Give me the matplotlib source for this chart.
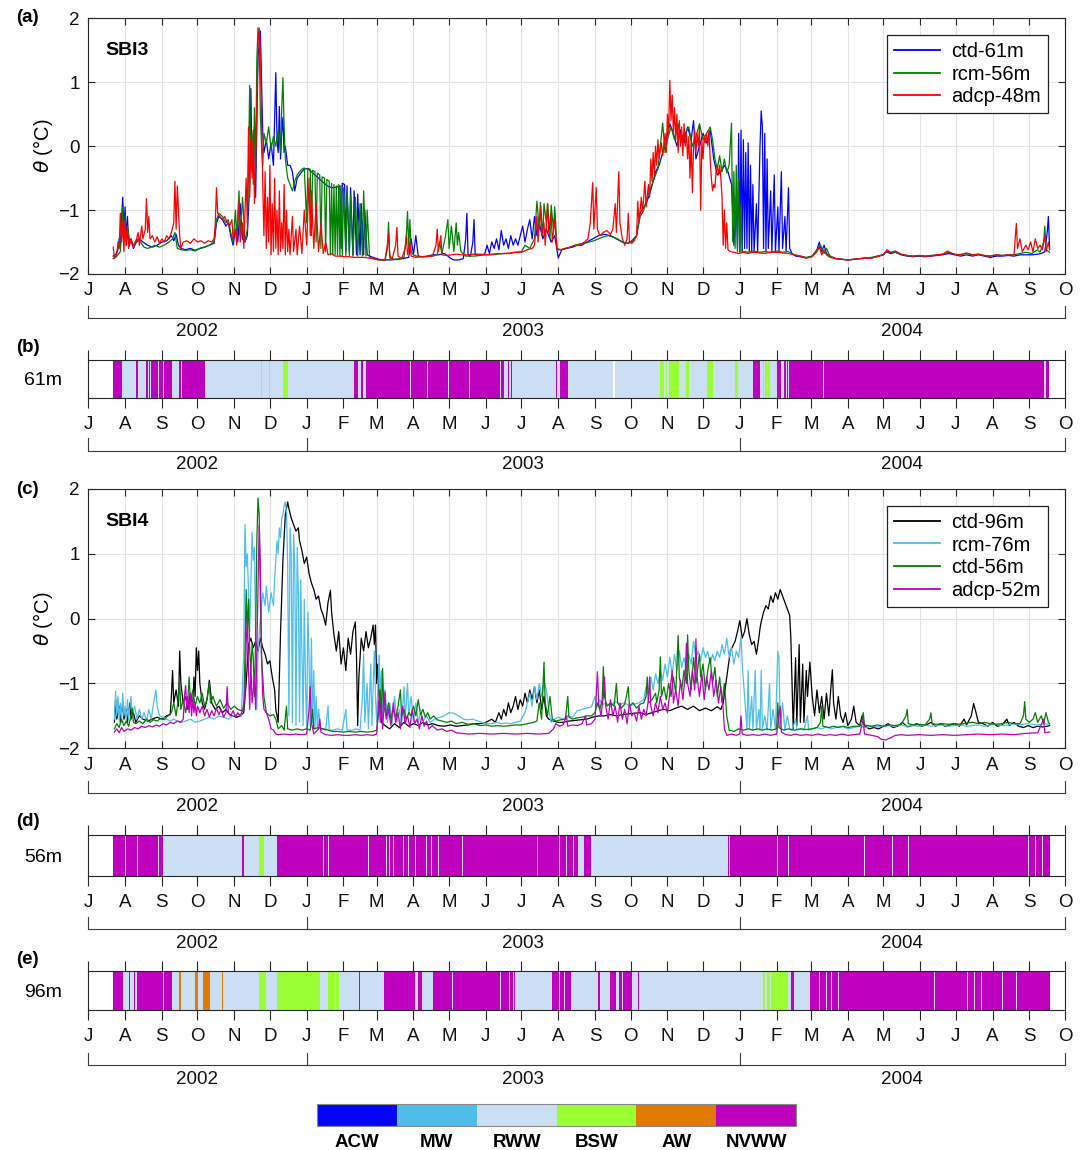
import numpy as np
import matplotlib
matplotlib.use('Agg')
import matplotlib.pyplot as plt
import matplotlib.dates as mdates
import matplotlib.transforms as mtransforms
from matplotlib.ticker import FuncFormatter
from matplotlib.colors import ListedColormap, BoundaryNorm
from matplotlib.cm import ScalarMappable

plt.rcParams['font.family'] = ['Liberation Sans', 'DejaVu Sans']
plt.rcParams['mathtext.fontset'] = 'dejavusans'

# ---- time series: (day since 2002-07-01, potential temperature degC) ----
# SBI3 mooring
ctd61 = [(21,-1.72),(23,-1.70),(25,-1.62),(26,-1.45),(27,-1.60),(28,-1.15),(29,-0.80),(30,-1.30),(31,-0.95),
         (32,-1.45),(33,-1.10),(34,-1.55),(36,-1.45),(38,-1.60),(40,-1.52),(43,-1.45),(46,-1.50),(50,-1.55),
         (54,-1.58),(58,-1.55),(62,-1.50),(66,-1.48),(70,-1.40),(72,-1.48),(74,-1.38),(76,-1.55),(78,-1.60),
         (82,-1.62),(86,-1.60),(90,-1.63),(94,-1.60),(98,-1.58),(102,-1.55),(106,-1.52),(108,-1.20),(110,-1.10),
         (113,-1.15),(116,-1.25),(118,-1.20),(120,-1.40),(122,-1.55),(124,-1.30),(126,-1.50),(128,-0.90),
         (130,-1.45),(132,-1.50),(134,-1.40),(136,-0.60),(137,0.90),(138,-0.40),(140,0.30),(141,-0.80),
         (143,1.40),(145,1.80),(146,1.00),(147,0.20),(148,-0.10),(150,0.10),(152,-0.20),(154,0.05),(156,-0.30),
         (157,0.40),(158,1.15),(159,0.10),(160,-0.10),(161,0.62),(162,-0.20),(163,0.20),(164,0.45),(165,-0.10),
         (166,0.00),(168,-0.30),(170,-0.30),(172,-0.40),(174,-0.70),(176,-0.50),(178,-0.45),(180,-0.40),
         (182,-0.36),(185,-0.35),(188,-0.40),(191,-0.45),(194,-0.50),(197,-0.55),(200,-0.60),(203,-0.64),
         (206,-0.65),(209,-0.64),(212,-0.62),(213,-1.60),(214,-0.58),(216,-0.60),(217,-1.65),(218,-0.62),
         (220,-1.65),(221,-0.65),(223,-1.70),(224,-0.70),(226,-1.70),(227,-0.75),(229,-1.70),(230,-0.90),
         (232,-1.70),(233,-1.00),(235,-1.70),(237,-1.72),(240,-1.74),(245,-1.77),(250,-1.78),(255,-1.78),
         (260,-1.77),(265,-1.76),(270,-1.74),(272,-1.45),(274,-1.70),(276,-1.40),(278,-1.72),(282,-1.73),
         (286,-1.72),(290,-1.70),(295,-1.70),(300,-1.68),(303,-1.72),(305,-1.75),(308,-1.78),(312,-1.78),
         (316,-1.76),(318,-1.45),(319,-1.05),(320,-1.70),(322,-1.72),(324,-1.50),(325,-1.15),(326,-1.70),
         (330,-1.70),(334,-1.69),(336,-1.55),(338,-1.68),(340,-1.50),(342,-1.60),(344,-1.45),(346,-1.62),
         (348,-1.32),(350,-1.55),(352,-1.45),(354,-1.60),(356,-1.40),(358,-1.55),(360,-1.45),(362,-1.55),
         (364,-1.40),(366,-1.25),(368,-1.50),(370,-1.30),(372,-1.15),(374,-1.45),(376,-1.10),(378,-1.40),
         (380,-1.20),(383,-1.45),(386,-1.30),(390,-1.50),(393,-1.40),(396,-1.75),(399,-1.62),(403,-1.60),
         (408,-1.58),(412,-1.55),(416,-1.55),(420,-1.50),(425,-1.45),(430,-1.40),(435,-1.38),(440,-1.40),
         (445,-1.45),(450,-1.50),(455,-1.52),(458,-1.48),(462,-1.40),(465,-1.05),(468,-0.95),(470,-0.90),
         (473,-0.75),(476,-0.55),(478,-0.40),(481,-0.30),(484,-0.10),(487,0.10),(490,0.35),(493,0.20),
         (496,0.00),(499,0.25),(502,0.05),(505,0.30),(508,0.10),(510,0.40),(512,-0.20),(515,0.00),(518,0.20),
         (521,0.05),(524,0.25),(527,-0.20),(530,-0.45),(533,-0.40),(536,-0.30),(539,-0.40),(542,-0.60),
         (544,-1.55),(546,-0.80),(547,-1.60),(548,0.20),(549,-1.65),(550,0.25),(551,-1.65),(552,0.10),
         (553,-1.60),(554,-0.10),(555,-1.60),(556,0.05),(557,-1.65),(558,-0.30),(559,-1.65),(560,-0.60),
         (561,-1.66),(563,-0.90),(564,-1.66),(566,0.00),(567,0.55),(568,0.30),(569,-1.60),(570,0.20),
         (571,-1.65),(572,-0.20),(573,-1.60),(575,-0.70),(576,-1.65),(578,-0.45),(579,-1.65),(581,-0.95),
         (582,-1.65),(584,-0.40),(585,-1.60),(587,-1.10),(588,-1.65),(590,-0.65),(591,-1.60),(593,-1.68),
         (596,-1.72),(600,-1.73),(605,-1.75),(610,-1.72),(614,-1.62),(616,-1.50),(618,-1.65),(620,-1.55),
         (622,-1.68),(625,-1.72),(630,-1.76),(635,-1.77),(640,-1.78),(645,-1.77),(650,-1.76),(655,-1.75),
         (660,-1.75),(665,-1.72),(670,-1.70),(672,-1.65),(676,-1.68),(680,-1.66),(685,-1.70),(690,-1.72),
         (695,-1.73),(700,-1.72),(705,-1.73),(710,-1.72),(715,-1.71),(720,-1.70),(725,-1.68),(730,-1.70),
         (735,-1.72),(740,-1.70),(745,-1.72),(750,-1.70),(755,-1.72),(760,-1.74),(765,-1.72),(770,-1.72),
         (775,-1.71),(780,-1.72),(785,-1.70),(790,-1.70),(795,-1.70),(800,-1.69),(803,-1.68),(806,-1.65),
         (808,-1.35),(809,-1.10),(810,-1.60)]

rcm56 = [(21,-1.76),(23,-1.74),(25,-1.70),(27,-1.65),(28,-1.30),(29,-0.95),(30,-1.45),(31,-1.10),(32,-1.55),
         (33,-1.25),(35,-1.50),(38,-1.55),(41,-1.45),(44,-1.50),(47,-1.58),(50,-1.60),(53,-1.58),(56,-1.55),
         (60,-1.58),(64,-1.55),(68,-1.50),(71,-1.45),(73,-1.35),(75,-1.60),(78,-1.62),(82,-1.63),(86,-1.62),
         (90,-1.64),(94,-1.60),(98,-1.58),(102,-1.55),(106,-1.50),(108,-1.15),(110,-1.05),(113,-1.10),
         (116,-1.20),(118,-1.15),(120,-1.35),(122,-1.50),(124,-1.00),(125,-1.45),(127,-0.70),(128,-1.40),
         (130,-0.80),(132,-1.50),(134,-1.30),(135,-0.30),(136,0.95),(137,-0.20),(138,0.20),(139,-0.60),
         (140,0.60),(141,-0.40),(142,1.35),(143,1.85),(144,1.70),(145,0.50),(146,0.00),(147,-0.30),(148,0.20),
         (150,0.05),(152,0.30),(154,-0.05),(156,0.15),(158,0.00),(160,0.25),(162,-0.10),(163,0.60),(164,1.07),
         (165,0.30),(166,-0.20),(168,-0.50),(170,-0.60),(172,-0.70),(174,-0.55),(176,-0.45),(178,-0.40),
         (180,-0.36),(182,-0.34),(184,-1.20),(185,-0.35),(187,-0.36),(188,-1.40),(189,-0.38),(191,-0.40),
         (192,-1.50),(193,-0.42),(195,-0.45),(196,-1.60),(197,-0.48),(199,-0.50),(200,-1.65),(201,-0.52),
         (203,-0.55),(204,-1.70),(205,-0.58),(206,-1.70),(207,-0.60),(208,-1.70),(209,-0.62),(210,-1.70),
         (211,-0.60),(212,-1.72),(213,-0.62),(214,-1.72),(215,-0.65),(217,-1.72),(218,-0.70),(220,-1.72),
         (221,-0.75),(223,-1.72),(225,-0.80),(227,-1.72),(229,-0.90),(231,-1.72),(232,-0.70),(234,-1.72),
         (235,-1.00),(237,-1.74),(240,-1.76),(245,-1.78),(250,-1.79),(252,-1.60),(253,-1.19),(254,-1.75),
         (258,-1.77),(262,-1.76),(266,-1.74),(268,-1.40),(269,-1.02),(270,-1.60),(271,-1.15),(272,-1.65),
         (274,-1.70),(278,-1.73),(282,-1.73),(286,-1.72),(290,-1.72),(294,-1.70),(296,-1.50),(298,-1.68),
         (301,-1.40),(303,-1.15),(304,-1.60),(306,-1.25),(308,-1.65),(310,-1.20),(311,-1.55),(312,-1.35),
         (314,-1.65),(318,-1.72),(322,-1.72),(326,-1.72),(330,-1.71),(335,-1.70),(340,-1.70),(345,-1.69),
         (350,-1.68),(355,-1.68),(360,-1.66),(365,-1.65),(368,-1.55),(372,-1.60),(376,-1.45),(378,-0.86),
         (380,-1.30),(381,-0.88),(383,-1.40),(384,-0.90),(386,-1.20),(387,-0.90),(389,-1.45),(390,-0.92),
         (392,-1.30),(393,-0.95),(395,-1.60),(398,-1.62),(402,-1.60),(406,-1.58),(410,-1.55),(414,-1.53),
         (418,-1.52),(422,-1.50),(426,-1.48),(430,-1.45),(434,-1.42),(438,-1.40),(442,-1.42),(446,-1.45),
         (450,-1.50),(454,-1.52),(458,-1.50),(462,-1.40),(465,-1.10),(468,-1.00),(471,-0.80),(474,-0.65),
         (477,-0.50),(480,-0.35),(482,0.00),(484,0.36),(486,-0.10),(488,0.10),(491,0.30),(494,0.10),(497,0.35),
         (500,0.05),(503,0.20),(506,0.30),(509,0.00),(512,0.15),(515,0.35),(518,0.10),(521,0.20),(524,0.30),
         (526,0.10),(528,-0.20),(530,-0.35),(532,-0.15),(534,-0.40),(536,-0.20),(538,-0.42),(540,-0.30),
         (542,0.36),(543,-1.50),(544,-0.40),(545,-1.60),(546,-0.30),(547,-1.65),(548,-0.50),(549,-1.66),
         (550,-0.90),(551,-1.66),(553,-1.65),(556,-1.66),(560,-1.64),(565,-1.66),(570,-1.65),(575,-1.66),
         (580,-1.64),(585,-1.66),(590,-1.65),(595,-1.70),(600,-1.72),(605,-1.74),(610,-1.72),(614,-1.62),
         (617,-1.55),(620,-1.68),(622,-1.60),(625,-1.72),(630,-1.76),(635,-1.77),(640,-1.78),(645,-1.77),
         (650,-1.76),(655,-1.75),(660,-1.74),(665,-1.72),(670,-1.70),(673,-1.64),(677,-1.67),(681,-1.65),
         (685,-1.69),(690,-1.71),(695,-1.72),(700,-1.71),(705,-1.72),(710,-1.71),(715,-1.70),(720,-1.69),
         (725,-1.66),(730,-1.69),(735,-1.70),(740,-1.68),(745,-1.70),(750,-1.69),(755,-1.71),(760,-1.72),
         (765,-1.70),(770,-1.71),(775,-1.70),(780,-1.70),(785,-1.68),(790,-1.66),(795,-1.68),(800,-1.62),
         (802,-1.66),(805,-1.50),(806,-1.25),(807,-1.62),(810,-1.66)]

adcp48 = [(21,-1.58),(22,-1.75),(24,-1.70),(25,-1.50),(26,-1.60),(27,-1.05),(28,-1.50),(29,-1.20),(30,-1.65),
          (31,-1.15),(32,-1.55),(33,-1.25),(34,-1.60),(36,-1.45),(38,-1.58),(40,-1.50),(42,-1.35),(43,-1.55),
          (45,-1.25),(46,-1.45),(48,-1.30),(49,-0.82),(50,-1.35),(51,-1.10),(52,-1.45),(54,-1.40),(56,-1.50),
          (58,-1.42),(60,-1.52),(62,-1.45),(64,-1.50),(66,-1.40),(68,-1.45),(70,-1.35),(72,-1.20),(73,-0.55),
          (74,-1.30),(75,-0.62),(76,-1.00),(77,-1.40),(78,-1.60),(80,-1.50),(83,-1.48),(86,-1.52),(89,-1.45),
          (92,-1.50),(95,-1.48),(98,-1.52),(101,-1.48),(104,-1.50),(106,-1.45),(107,-1.20),(108,-0.65),
          (109,-1.05),(111,-1.10),(113,-1.15),(115,-1.10),(117,-1.20),(119,-1.25),(121,-1.15),(122,-1.45),
          (124,-1.30),(125,-1.55),(127,-0.85),(128,-1.50),(130,-1.20),(131,-1.60),(133,-0.50),(134,-1.20),
          (135,0.30),(136,-0.80),(137,0.10),(138,-0.50),(139,0.25),(140,-0.90),(141,-0.20),(142,0.60),
          (143,1.60),(144,1.85),(145,1.40),(146,0.40),(147,-0.60),(148,-1.40),(149,-0.40),(150,-1.60),
          (151,-0.80),(152,-1.50),(153,-0.30),(154,-1.70),(155,-0.90),(156,-1.65),(157,-0.50),(158,-1.60),
          (159,-1.00),(160,-1.70),(161,-0.70),(162,-1.65),(163,-1.20),(164,-1.60),(165,-0.60),(166,-1.70),
          (167,-1.00),(168,-1.65),(169,-1.30),(170,-1.70),(172,-1.10),(173,-1.65),(175,-1.30),(176,-1.70),
          (178,-1.25),(180,-1.68),(182,-1.00),(184,-1.55),(186,-0.50),(187,-1.40),(188,-0.70),(190,-1.60),
          (192,-0.90),(194,-1.65),(196,-1.20),(198,-1.68),(200,-1.50),(202,-1.70),(205,-1.68),(208,-1.72),
          (212,-1.72),(216,-1.73),(220,-1.73),(224,-1.74),(228,-1.74),(232,-1.74),(236,-1.75),(240,-1.76),
          (245,-1.78),(250,-1.78),(252,-1.55),(253,-1.36),(254,-1.70),(256,-1.77),(259,-1.55),(260,-1.27),
          (261,-1.72),(264,-1.76),(267,-1.60),(268,-1.40),(269,-1.70),(271,-1.50),(272,-1.72),(276,-1.74),
          (280,-1.73),(285,-1.73),(290,-1.72),(293,-1.55),(294,-1.30),(295,-1.65),(297,-1.40),(298,-1.70),
          (302,-1.71),(306,-1.70),(310,-1.69),(315,-1.70),(320,-1.70),(325,-1.69),(330,-1.69),(335,-1.70),
          (340,-1.69),(345,-1.68),(350,-1.68),(355,-1.67),(360,-1.66),(365,-1.66),(370,-1.62),(374,-1.60),
          (376,-1.55),(378,-1.10),(379,-1.50),(381,-0.95),(382,-1.40),(384,-1.20),(385,-1.55),(387,-0.90),
          (388,-1.35),(390,-1.05),(391,-1.50),(393,-1.15),(395,-1.62),(398,-1.62),(402,-1.60),(406,-1.58),
          (410,-1.55),(414,-1.55),(418,-1.50),(421,-1.45),(423,-1.20),(425,-0.57),(426,-1.30),(428,-0.65),
          (429,-1.30),(431,-1.40),(434,-1.35),(437,-1.32),(440,-1.38),(442,-1.30),(444,-0.90),(445,-1.35),
          (447,-0.40),(448,-1.20),(450,-1.45),(452,-1.55),(454,-1.45),(455,-1.05),(456,-1.50),(458,-1.52),
          (460,-1.48),(462,-1.40),(463,-0.86),(464,-1.20),(466,-0.80),(467,-1.05),(469,-0.55),(470,-0.95),
          (472,-0.60),(473,-0.80),(474,-0.20),(475,-0.55),(476,-0.10),(477,-0.45),(478,0.00),(479,-0.30),
          (480,0.10),(481,-0.20),(482,-0.05),(483,0.05),(484,-0.15),(486,0.20),(487,-0.10),(488,0.50),
          (489,0.20),(490,1.03),(491,0.40),(492,0.80),(493,0.20),(494,0.60),(495,0.10),(496,0.50),(497,-0.10),
          (498,0.40),(499,0.00),(500,0.30),(501,-0.15),(502,0.35),(503,0.00),(504,0.20),(505,-0.20),(506,0.15),
          (507,-0.50),(508,0.10),(509,-0.73),(510,0.00),(511,0.25),(512,-0.10),(513,0.20),(514,0.00),
          (515,0.30),(516,-1.00),(517,0.10),(518,-0.20),(519,0.15),(520,0.05),(521,0.20),(522,0.00),(523,0.25),
          (524,-0.20),(525,-0.50),(526,-0.70),(527,-0.60),(528,-0.65),(529,-0.40),(530,-0.30),(531,-0.45),
          (532,-0.30),(533,-0.50),(534,-0.80),(535,-1.55),(536,-1.00),(537,-1.60),(538,-1.20),(539,-1.62),
          (541,-1.65),(544,-1.66),(548,-1.68),(552,-1.66),(556,-1.68),(560,-1.66),(565,-1.67),(570,-1.68),
          (575,-1.66),(580,-1.66),(585,-1.67),(590,-1.68),(595,-1.70),(600,-1.72),(605,-1.75),(610,-1.73),
          (614,-1.65),(616,-1.58),(618,-1.70),(620,-1.62),(622,-1.70),(625,-1.74),(630,-1.76),(635,-1.77),
          (640,-1.78),(645,-1.77),(650,-1.76),(655,-1.75),(660,-1.75),(665,-1.73),(670,-1.70),(673,-1.62),
          (676,-1.66),(680,-1.64),(684,-1.69),(690,-1.71),(695,-1.72),(700,-1.71),(705,-1.72),(710,-1.72),
          (715,-1.70),(720,-1.69),(724,-1.64),(728,-1.68),(732,-1.70),(736,-1.69),(740,-1.67),(745,-1.70),
          (750,-1.69),(755,-1.71),(760,-1.72),(765,-1.70),(770,-1.71),(775,-1.70),(780,-1.70),(782,-1.21),
          (783,-1.60),(785,-1.45),(787,-1.65),(790,-1.55),(792,-1.62),(794,-1.50),(796,-1.65),(798,-1.45),
          (800,-1.60),(802,-1.55),(804,-1.62),(806,-1.40),(807,-1.65),(809,-1.50),(810,-1.62)]

# SBI4 mooring
ctd96 = [(22,-1.60),(23,-1.25),(24,-1.55),(26,-1.35),(27,-1.60),(29,-1.30),(30,-1.55),(32,-1.40),(33,-1.60),
         (35,-1.30),(36,-1.55),(38,-1.45),(40,-1.60),(43,-1.50),(46,-1.55),(50,-1.58),(54,-1.55),(58,-1.52),
         (62,-1.55),(66,-1.50),(69,-1.48),(70,-1.20),(71,-0.80),(72,-1.30),(74,-1.10),(76,-1.35),(77,-0.50),
         (78,-1.00),(80,-1.30),(82,-1.20),(84,-1.40),(86,-1.15),(88,-1.35),(89,-0.90),(90,-1.20),(91,-0.45),
         (92,-0.80),(93,-0.50),(94,-1.00),(96,-1.30),(98,-1.40),(100,-1.25),(102,-0.95),(104,-1.30),
         (107,-1.40),(110,-1.35),(113,-1.45),(116,-1.40),(119,-1.48),(122,-1.50),(125,-1.52),(128,-1.50),
         (131,-1.45),(133,-1.00),(135,-0.40),(137,-0.30),(139,-0.45),(141,-0.35),(143,-0.50),(145,-0.30),
         (147,-0.45),(149,-0.55),(151,-0.70),(153,-0.65),(155,-0.90),(157,-1.10),(158,-1.40),(160,-1.60),
         (162,-0.20),(164,0.90),(166,1.60),(168,1.80),(169,1.70),(171,1.55),(173,1.45),(175,1.35),(177,1.40),
         (178,1.20),(180,1.05),(182,0.85),(184,0.95),(186,0.70),(188,0.55),(190,0.45),(192,0.30),(194,0.35),
         (196,0.15),(198,0.05),(200,-0.10),(202,0.25),(204,0.44),(205,0.10),(207,-0.25),(209,-0.50),
         (211,-0.20),(213,-0.70),(215,-0.45),(217,-0.80),(219,-0.30),(221,-0.55),(223,-0.20),(225,-0.05),
         (226,-0.60),(227,-1.65),(228,-0.90),(230,-0.30),(232,-0.50),(234,-0.20),(236,-0.45),(238,-0.30),
         (240,-0.10),(241,-0.40),(242,-0.10),(243,-1.00),(244,-0.70),(245,-1.20),(246,-1.10),(247,-1.60),
         (250,-1.65),(254,-1.70),(258,-1.62),(262,-1.68),(266,-1.60),(270,-1.66),(274,-1.62),(278,-1.65),
         (282,-1.60),(286,-1.64),(290,-1.62),(295,-1.65),(300,-1.66),(305,-1.64),(310,-1.66),(315,-1.65),
         (320,-1.64),(325,-1.62),(330,-1.62),(335,-1.60),(340,-1.55),(343,-1.60),(346,-1.45),(348,-1.55),
         (350,-1.40),(352,-1.50),(354,-1.30),(356,-1.45),(358,-1.35),(360,-1.20),(362,-1.40),(364,-1.25),
         (366,-1.35),(368,-1.15),(370,-1.30),(372,-1.10),(374,-1.25),(376,-1.05),(378,-1.30),(380,-1.10),
         (382,-1.40),(384,-1.20),(386,-1.50),(388,-1.55),(392,-1.58),(396,-1.60),(400,-1.60),(405,-1.58),
         (410,-1.57),(415,-1.56),(420,-1.55),(425,-1.52),(430,-1.50),(435,-1.50),(440,-1.48),(445,-1.50),
         (450,-1.48),(455,-1.47),(460,-1.46),(465,-1.45),(470,-1.48),(475,-1.45),(480,-1.42),(485,-1.40),
         (490,-1.42),(495,-1.38),(500,-1.35),(505,-1.40),(510,-1.35),(515,-1.42),(520,-1.38),(525,-1.42),
         (530,-1.36),(533,-1.40),(535,-1.30),(538,-0.90),(541,-0.50),(545,-0.35),(547,-0.20),(549,-0.03),
         (551,-0.30),(553,-0.20),(555,0.00),(557,-0.25),(559,-0.40),(561,-0.35),(563,-0.55),(565,-0.30),
         (566,-0.15),(567,-0.05),(569,0.10),(571,0.20),(573,0.15),(575,0.35),(577,0.25),(579,0.40),(581,0.30),
         (583,0.45),(585,0.35),(587,0.25),(589,0.15),(591,0.05),(592,-0.30),(593,-1.00),(594,-1.70),
         (596,-0.60),(597,-1.65),(599,-0.40),(600,-1.60),(602,-0.70),(603,-1.60),(605,-0.80),(606,-1.20),
         (608,-0.67),(610,-1.20),(612,-1.50),(614,-1.10),(616,-1.45),(618,-1.20),(620,-1.55),(622,-1.15),
         (624,-1.50),(626,-1.00),(627,-0.79),(628,-1.30),(630,-1.55),(632,-1.20),(634,-1.50),(636,-1.60),
         (638,-1.45),(640,-1.65),(643,-1.55),(645,-1.35),(647,-1.60),(650,-1.65),(652,-1.50),(654,-1.65),
         (658,-1.70),(662,-1.68),(666,-1.70),(670,-1.66),(674,-1.62),(678,-1.68),(682,-1.66),(686,-1.60),
         (690,-1.67),(694,-1.65),(698,-1.62),(702,-1.66),(706,-1.64),(710,-1.60),(714,-1.66),(718,-1.62),
         (722,-1.66),(726,-1.64),(730,-1.62),(734,-1.66),(738,-1.55),(740,-1.64),(744,-1.50),(746,-1.31),
         (748,-1.45),(750,-1.60),(754,-1.62),(758,-1.66),(762,-1.60),(766,-1.66),(770,-1.64),(774,-1.55),
         (776,-1.65),(780,-1.60),(784,-1.66),(788,-1.68),(792,-1.65),(796,-1.68),(800,-1.66),(804,-1.67),
         (808,-1.66),(810,-1.65)]

rcm76 = [(22,-1.55),(23,-1.12),(24,-1.50),(25,-1.20),(26,-1.55),(27,-1.30),(28,-1.60),(29,-1.15),(30,-1.50),
         (31,-1.35),(32,-1.58),(33,-1.25),(34,-1.55),(36,-1.20),(37,-1.50),(39,-1.35),(41,-1.55),(43,-1.40),
         (45,-1.55),(47,-1.45),(49,-1.58),(51,-1.40),(53,-1.55),(55,-1.30),(57,-1.10),(58,-1.35),(60,-1.50),
         (63,-1.52),(66,-1.55),(69,-1.58),(72,-1.55),(75,-1.58),(78,-1.60),(82,-1.58),(86,-1.55),(90,-1.60),
         (94,-1.58),(98,-1.55),(102,-1.52),(106,-1.55),(110,-1.50),(114,-1.52),(118,-1.55),(122,-1.50),
         (126,-1.48),(129,-1.50),(131,-0.50),(132,1.45),(133,0.80),(134,1.00),(135,0.40),(136,-0.20),
         (137,0.60),(138,1.33),(139,0.90),(140,1.10),(141,-0.30),(142,-1.40),(143,-0.50),(145,0.00),(147,0.40),
         (149,0.20),(150,0.50),(152,0.10),(154,0.40),(156,0.20),(157,0.60),(158,0.90),(159,1.20),(160,1.00),
         (161,1.40),(162,1.25),(163,1.55),(164,1.60),(165,1.75),(166,1.80),(167,1.65),(168,0.80),(169,-1.50),
         (170,1.40),(171,1.00),(172,-1.60),(173,1.30),(174,0.80),(175,-1.65),(176,1.10),(177,0.40),(178,-1.60),
         (179,0.60),(180,-0.50),(181,-1.65),(182,0.30),(183,-1.00),(184,-1.70),(185,0.10),(186,-0.60),
         (187,-1.65),(188,-0.30),(189,-1.60),(190,-0.80),(191,-1.70),(192,-1.20),(193,-1.70),(194,-1.40),
         (196,-1.72),(198,-1.70),(200,-1.72),(202,-1.35),(203,-1.72),(206,-1.72),(210,-1.70),(214,-1.72),
         (217,-1.40),(218,-1.72),(222,-1.72),(226,-1.70),(229,-1.72),(231,-1.20),(232,-0.54),(233,-1.60),
         (235,-1.00),(236,-1.70),(238,-0.70),(239,-1.65),(241,-0.50),(242,-1.20),(243,-1.60),(245,-0.56),
         (246,-1.20),(247,-0.80),(248,-1.50),(250,-1.10),(252,-1.60),(254,-1.30),(256,-1.62),(258,-1.20),
         (260,-1.60),(262,-1.40),(264,-1.62),(266,-1.05),(267,-1.55),(269,-1.00),(270,-1.50),(272,-1.20),
         (274,-1.58),(276,-1.30),(278,-1.60),(280,-1.45),(282,-1.58),(285,-1.50),(288,-1.60),(292,-1.55),
         (296,-1.52),(300,-1.50),(304,-1.45),(308,-1.46),(312,-1.50),(316,-1.55),(320,-1.56),(324,-1.55),
         (328,-1.58),(332,-1.60),(336,-1.62),(340,-1.62),(344,-1.60),(348,-1.62),(352,-1.61),(356,-1.62),
         (360,-1.60),(364,-1.58),(368,-1.45),(370,-1.30),(372,-1.15),(374,-1.35),(376,-1.05),(378,-1.25),
         (380,-1.00),(382,-1.20),(384,-0.97),(386,-1.10),(388,-1.40),(390,-1.60),(393,-1.55),(396,-1.52),
         (400,-1.55),(404,-1.50),(408,-1.52),(412,-1.42),(416,-1.40),(420,-1.38),(424,-1.36),(427,-1.20),
         (429,-1.35),(431,-1.25),(433,-1.33),(436,-1.30),(440,-1.35),(444,-1.28),(448,-1.32),(452,-1.30),
         (456,-1.35),(460,-1.32),(464,-1.30),(468,-1.25),(470,-1.05),(472,-1.20),(474,-0.90),(476,-1.10),
         (478,-0.85),(480,-1.00),(482,-0.80),(484,-0.95),(486,-0.70),(488,-0.90),(490,-0.60),(492,-0.85),
         (494,-0.55),(496,-0.80),(498,-0.50),(500,-0.75),(502,-0.60),(504,-0.80),(506,-0.55),(508,-0.70),
         (510,-0.35),(512,-0.60),(514,-0.50),(516,-0.65),(518,-0.45),(520,-0.60),(522,-0.50),(524,-0.70),
         (526,-0.55),(528,-0.65),(530,-0.50),(532,-0.60),(534,-0.40),(536,-0.55),(538,-0.30),(540,-0.60),
         (542,-0.45),(544,-0.70),(546,-0.50),(548,-0.60),(550,-0.28),(551,-0.70),(553,-1.20),(555,-1.70),
         (556,-0.80),(557,-1.70),(559,-1.20),(560,-1.72),(562,-0.80),(563,-1.70),(565,-1.40),(566,-1.72),
         (567,-0.80),(568,-1.70),(570,-1.50),(572,-1.72),(574,-1.00),(575,-1.70),(577,-1.40),(579,-1.72),
         (581,-0.50),(582,-0.60),(583,-1.70),(585,-1.30),(587,-1.72),(589,-1.50),(591,-1.70),(593,-1.72),
         (596,-1.55),(597,-1.72),(600,-1.70),(603,-1.72),(606,-1.50),(607,-1.72),(610,-1.70),(614,-1.68),
         (618,-1.70),(622,-1.67),(626,-1.70),(630,-1.68),(635,-1.66),(640,-1.70),(645,-1.68),(650,-1.66),
         (655,-1.68),(660,-1.66),(665,-1.67),(670,-1.66),(675,-1.65),(680,-1.66),(685,-1.64),(690,-1.66),
         (695,-1.65),(700,-1.66),(705,-1.64),(710,-1.66),(715,-1.65),(720,-1.64),(725,-1.66),(730,-1.65),
         (735,-1.64),(740,-1.66),(745,-1.65),(750,-1.64),(755,-1.66),(760,-1.64),(765,-1.63),(770,-1.65),
         (775,-1.64),(780,-1.62),(785,-1.64),(790,-1.62),(795,-1.63),(800,-1.64),(805,-1.62),(810,-1.63)]

ctd56 = [(22,-1.70),(24,-1.62),(26,-1.68),(28,-1.55),(30,-1.65),(32,-1.58),(34,-1.66),(36,-1.50),(37,-1.38),
         (38,-1.60),(40,-1.62),(43,-1.58),(46,-1.62),(49,-1.55),(52,-1.60),(55,-1.56),(58,-1.58),(61,-1.54),
         (64,-1.56),(67,-1.50),(70,-1.45),(72,-1.30),(74,-1.50),(76,-1.20),(77,-0.97),(78,-1.40),(80,-1.25),
         (82,-1.45),(84,-1.20),(85,-0.90),(86,-1.30),(88,-1.10),(90,-1.35),(92,-1.20),(94,-1.30),(96,-1.15),
         (98,-1.35),(100,-1.25),(102,-1.00),(103,-1.30),(105,-1.20),(108,-1.35),(111,-1.25),(114,-1.38),
         (117,-1.30),(120,-1.40),(123,-1.35),(126,-1.40),(129,-1.42),(131,-1.40),(132,-0.60),(133,0.45),
         (134,-0.20),(135,0.30),(136,-0.50),(137,-0.80),(138,-0.40),(139,-0.60),(140,-1.20),(141,-0.30),
         (142,1.20),(143,1.86),(144,1.60),(145,0.30),(146,-0.60),(147,-0.90),(148,-1.20),(150,-1.45),
         (153,-1.50),(156,-1.48),(158,-1.55),(160,-1.70),(163,-1.65),(165,-1.72),(167,-1.35),(168,-1.70),
         (172,-1.72),(176,-1.70),(180,-1.72),(184,-1.70),(187,-1.72),(189,-1.40),(190,-1.70),(194,-1.68),
         (198,-1.70),(202,-1.72),(206,-1.74),(210,-1.74),(215,-1.75),(220,-1.74),(225,-1.75),(230,-1.74),
         (235,-1.75),(240,-1.74),(243,-1.72),(245,-1.40),(246,-1.10),(247,-1.50),(248,-0.77),(249,-1.35),
         (251,-1.50),(253,-1.30),(255,-1.55),(257,-1.40),(259,-1.52),(261,-1.35),(263,-1.10),(264,-1.50),
         (266,-1.40),(268,-1.55),(270,-1.45),(272,-1.50),(274,-1.35),(276,-1.50),(278,-1.25),(280,-1.48),
         (282,-1.40),(284,-1.52),(286,-1.45),(288,-1.55),(291,-1.50),(294,-1.56),(298,-1.58),(302,-1.60),
         (306,-1.58),(310,-1.62),(315,-1.60),(320,-1.63),(325,-1.62),(330,-1.65),(335,-1.64),(340,-1.66),
         (345,-1.65),(350,-1.66),(355,-1.65),(360,-1.64),(365,-1.64),(370,-1.62),(375,-1.60),(378,-1.58),
         (380,-1.30),(382,-1.55),(384,-0.67),(385,-1.30),(387,-1.50),(389,-1.20),(391,-1.55),(394,-1.58),
         (398,-1.56),(402,-1.55),(404,-1.20),(405,-1.52),(408,-1.55),(412,-1.53),(416,-1.52),(420,-1.50),
         (424,-1.50),(427,-1.45),(429,-1.30),(431,-1.40),(433,-1.25),(434,-0.74),(435,-1.20),(437,-1.35),
         (440,-1.30),(443,-1.35),(445,-1.00),(446,-1.30),(449,-1.38),(452,-1.32),(455,-1.05),(456,-1.35),
         (459,-1.30),(462,-1.38),(465,-1.32),(468,-1.30),(470,-1.20),(471,-0.90),(472,-1.30),(475,-1.25),
         (478,-1.15),(479,-1.30),(481,-1.10),(482,-0.59),(483,-1.20),(485,-1.05),(487,-1.25),(489,-1.00),
         (491,-1.20),(493,-0.90),(495,-1.15),(497,-0.26),(498,-0.90),(500,-1.10),(502,-0.80),(504,-1.00),
         (505,-0.25),(506,-0.80),(508,-1.10),(510,-0.60),(512,-1.00),(514,-0.70),(515,-0.55),(516,-0.90),
         (518,-0.70),(520,-1.10),(522,-0.80),(524,-0.60),(526,-1.00),(528,-0.75),(530,-1.20),(532,-0.90),
         (534,-1.30),(536,-1.00),(538,-1.50),(540,-1.72),(544,-1.74),(548,-1.70),(552,-1.72),(556,-1.70),
         (560,-1.72),(564,-1.70),(568,-1.72),(572,-1.70),(576,-1.72),(580,-1.70),(581,-1.30),(582,-1.68),
         (586,-1.72),(590,-1.70),(595,-1.72),(600,-1.70),(605,-1.71),(610,-1.70),(614,-1.68),(617,-1.60),
         (618,-1.35),(619,-1.66),(624,-1.68),(628,-1.66),(632,-1.68),(636,-1.66),(640,-1.68),(645,-1.66),
         (650,-1.66),(652,-1.55),(653,-1.45),(654,-1.64),(660,-1.66),(665,-1.64),(670,-1.66),(675,-1.64),
         (680,-1.65),(685,-1.63),(689,-1.50),(690,-1.40),(691,-1.62),(695,-1.64),(700,-1.63),(705,-1.64),
         (709,-1.55),(710,-1.45),(711,-1.62),(715,-1.63),(720,-1.62),(725,-1.63),(730,-1.62),(735,-1.63),
         (740,-1.61),(745,-1.60),(750,-1.62),(755,-1.60),(760,-1.62),(765,-1.63),(770,-1.62),(775,-1.60),
         (780,-1.62),(785,-1.62),(788,-1.50),(789,-1.28),(790,-1.55),(793,-1.60),(796,-1.55),(798,-1.45),
         (800,-1.60),(803,-1.50),(805,-1.62),(807,-1.45),(809,-1.60),(810,-1.62)]

adcp52 = [(22,-1.75),(24,-1.70),(26,-1.76),(28,-1.68),(30,-1.74),(33,-1.70),(36,-1.72),(39,-1.68),(42,-1.70),
          (45,-1.66),(48,-1.68),(51,-1.65),(54,-1.67),(57,-1.64),(60,-1.66),(63,-1.62),(66,-1.64),(69,-1.60),
          (72,-1.62),(75,-1.58),(78,-1.60),(80,-1.55),(81,-1.20),(82,-1.03),(83,-1.40),(84,-1.20),(85,-1.45),
          (86,-1.15),(87,-1.50),(88,-1.25),(89,-1.45),(90,-1.30),(91,-1.50),(92,-1.35),(94,-1.45),(96,-1.35),
          (98,-1.50),(100,-1.40),(102,-1.52),(104,-1.42),(106,-1.50),(108,-1.38),(110,-1.48),(112,-1.40),
          (114,-1.52),(116,-1.45),(117,-1.05),(118,-1.45),(120,-1.50),(122,-1.42),(124,-1.52),(126,-1.45),
          (128,-1.50),(130,-1.42),(132,-1.20),(133,-0.40),(134,0.00),(135,-0.80),(136,-1.40),(137,-0.70),
          (138,-1.30),(140,-0.90),(141,-1.40),(142,-0.50),(143,0.50),(144,1.44),(145,0.80),(146,-0.60),
          (147,-1.20),(148,-1.40),(150,-1.45),(152,-1.55),(154,-1.70),(156,-1.72),(158,-1.78),(160,-1.79),
          (165,-1.78),(170,-1.79),(175,-1.78),(180,-1.79),(184,-1.78),(186,-1.40),(187,-1.05),(188,-1.60),
          (190,-1.78),(194,-1.70),(195,-1.55),(196,-1.75),(200,-1.79),(205,-1.80),(210,-1.79),(215,-1.80),
          (220,-1.80),(225,-1.79),(230,-1.80),(235,-1.79),(240,-1.80),(243,-1.78),(244,-1.50),(245,-1.20),
          (246,-1.60),(247,-1.30),(248,-1.70),(250,-1.13),(251,-1.55),(253,-1.40),(255,-1.65),(257,-1.30),
          (259,-1.60),(261,-1.45),(263,-1.70),(265,-1.35),(267,-1.62),(269,-1.50),(271,-1.68),(273,-1.40),
          (275,-1.62),(277,-1.55),(279,-1.70),(281,-1.50),(283,-1.66),(285,-1.58),(287,-1.70),(290,-1.65),
          (294,-1.72),(298,-1.70),(302,-1.74),(306,-1.72),(310,-1.76),(315,-1.77),(320,-1.78),(330,-1.77),
          (340,-1.78),(350,-1.77),(360,-1.78),(370,-1.77),(380,-1.78),(388,-1.77),(392,-1.70),(394,-1.62),
          (397,-1.66),(400,-1.64),(403,-1.50),(404,-1.66),(408,-1.64),(412,-1.65),(416,-1.62),(419,-1.50),
          (420,-1.64),(424,-1.62),(427,-1.55),(428,-1.20),(429,-0.82),(430,-1.30),(432,-1.50),(434,-1.20),
          (435,-0.90),(436,-1.35),(438,-1.55),(440,-1.25),(442,-1.50),(444,-1.35),(446,-1.60),(448,-1.30),
          (450,-1.55),(452,-1.40),(454,-1.62),(456,-1.30),(458,-1.50),(460,-1.45),(462,-1.58),(464,-1.35),
          (466,-1.55),(468,-1.40),(470,-1.50),(472,-1.25),(473,-0.90),(474,-1.35),(476,-1.50),(478,-1.30),
          (480,-1.45),(482,-1.20),(484,-1.40),(486,-1.30),(488,-1.45),(490,-1.15),(492,-0.80),(493,-1.30),
          (495,-1.10),(497,-1.35),(499,-0.95),(501,-1.25),(503,-0.85),(504,-0.38),(505,-1.00),(507,-1.20),
          (509,-0.80),(511,-1.10),(512,-0.31),(513,-0.90),(515,-1.20),(517,-0.85),(519,-1.25),(521,-0.90),
          (523,-1.10),(525,-0.80),(527,-1.20),(529,-0.95),(531,-1.30),(533,-1.05),(535,-1.40),(536,-1.70),
          (538,-1.80),(542,-1.78),(546,-1.80),(549,-1.78),(550,-1.50),(551,-1.78),(555,-1.80),(560,-1.79),
          (565,-1.80),(570,-1.78),(575,-1.80),(580,-1.78),(583,-1.35),(584,-1.75),(588,-1.79),(592,-1.80),
          (596,-1.78),(600,-1.80),(605,-1.79),(610,-1.80),(615,-1.78),(620,-1.80),(625,-1.79),(630,-1.80),
          (635,-1.78),(640,-1.80),(645,-1.79),(650,-1.78),(653,-1.55),(654,-1.78),(660,-1.80),(665,-1.82),
          (668,-1.86),(672,-1.87),(676,-1.84),(680,-1.80),(685,-1.79),(690,-1.80),(700,-1.79),(710,-1.80),
          (720,-1.79),(730,-1.80),(740,-1.79),(750,-1.78),(760,-1.79),(770,-1.78),(780,-1.79),(790,-1.77),
          (800,-1.76),(805,-1.55),(806,-1.76),(810,-1.75)]

# ---- water-mass class strips: (start day, end day, class code), later rows drawn on top ----
class_codes = ['C', 'M', 'R', 'B', 'A', 'N']
class_names = ['ACW', 'MW', 'RWW', 'BSW', 'AW', 'NVWW']
class_colors = ['#0505f5', '#4dbde9', '#cbdff4', '#99ff33', '#e07b00', '#bf00bf']

strip61 = [(20.8,28.7,'N'),(28.7,39.8,'R'),(39.8,42.1,'N'),(42.1,48.6,'R'),(48.6,49.9,'N'),(49.9,51,'R'),
           (51,52.2,'N'),(52.2,53,'R'),(53,70.5,'N'),(70.5,76.4,'R'),(76.4,98.3,'N'),(98.3,145.3,'R'),
           (145.3,146.2,'B'),(146.2,163.7,'R'),(163.7,168.1,'B'),(168.1,223.7,'R'),(223.7,227.2,'N'),
           (227.2,229.8,'R'),(229.8,231.3,'N'),(231.3,233.7,'R'),(233.7,350,'N'),(350,393.8,'R'),
           (393.8,395.3,'N'),(395.3,397.6,'R'),(397.6,404.1,'N'),(404.1,441.8,'R'),(443.5,481.5,'R'),
           (481.5,485,'B'),(485,489.4,'R'),(489.4,497.6,'B'),(497.6,504,'R'),(504,506,'B'),(506,521,'R'),
           (521,526,'B'),(526,544.6,'R'),(544.6,547.6,'B'),(547.6,560.5,'R'),(560.5,566.4,'N'),
           (566.4,568.8,'R'),(568.8,574.7,'B'),(574.7,580.6,'R'),(580.6,583.4,'N'),(583.4,585.8,'R'),
           (585.8,619,'N'),(619,620,'R'),(620,805.4,'N'),(805.4,807,'R'),(807,809.5,'N'),
           (58.9,59.3,'R'),(63.3,63.7,'R'),(78.5,78.9,'R'),(83.8,84.2,'R'),(88.1,88.5,'R'),(94,94.4,'R'),
           (149.6,149.9,'B'),(152.6,152.9,'B'),(157,157.3,'B'),(159.9,160.2,'B'),(487,487.4,'B'),
           (268.3,268.7,'R'),(271.2,271.6,'R'),(285.8,286.2,'R'),(303.4,303.8,'R'),(321,321.4,'R'),
           (338.5,338.9,'R'),(341.5,341.9,'R'),(347.3,347.7,'R'),(353.8,354.3,'N'),(356.2,356.7,'N'),
           (382.3,382.7,'N'),(569.5,570.2,'R'),(572,572.7,'R'),(588,588.6,'R'),(589.5,590.1,'R'),
           (806,806.6,'R')]

strip56 = [(20.8,63.3,'N'),(63.3,129.2,'R'),(129.2,130.8,'N'),(130.8,143.8,'R'),(143.8,148.2,'B'),
           (148.2,159.3,'R'),(159.3,378,'N'),(378,378.6,'M'),(378.6,413,'N'),(413,417.4,'R'),(417.4,424,'N'),
           (424,539,'R'),(539,810,'N'),
           (26.6,27,'R'),(31,31.4,'R'),(41.3,41.7,'R'),(44.2,44.6,'R'),(48.6,49,'R'),(54.4,54.8,'R'),
           (58.9,59.3,'R'),(162.8,163.2,'R'),(165.7,166.1,'R'),(189.2,189.6,'R'),(198,198.4,'R'),
           (202.4,202.8,'R'),(218.5,218.9,'R'),(236,236.4,'R'),(250.7,251.3,'R'),(253.5,254,'R'),
           (256.6,257.2,'R'),(260,260.5,'R'),(262.4,263,'R'),(265.4,266,'R'),(269.7,270.3,'R'),
           (272.5,273,'R'),(275.6,276.2,'R'),(280,280.6,'R'),(284.4,285,'R'),(288.8,289.4,'R'),
           (294.7,295.1,'R'),(301.9,302.3,'R'),(306.4,306.8,'R'),(315.1,315.5,'R'),(393.9,394.4,'R'),
           (396.8,397.3,'R'),(399.8,400.3,'R'),(402.7,403.2,'R'),(405.7,406.2,'R'),(408.5,409,'R'),
           (540,540.8,'R'),(549.6,550,'R'),(567.3,567.7,'R'),(580.6,581,'R'),(589.9,590.3,'R'),
           (601.1,601.5,'R'),(624.6,625,'R'),(654,654.4,'R'),(677.5,677.9,'R'),(690.8,691.2,'R'),
           (792.2,792.6,'R'),(798.1,798.5,'R'),(803.9,804.3,'R')]

strip96 = [(20.8,29.6,'N'),(29.6,41.3,'R'),(41.3,70.5,'N'),(70.5,76.4,'R'),(76.4,78.5,'A'),(78.5,89.6,'R'),
           (89.6,92.5,'A'),(92.5,96.9,'R'),(96.9,102.8,'A'),(102.8,143.8,'R'),(143.8,149.7,'B'),
           (149.7,159.3,'R'),(159.3,195.1,'B'),(195.1,202.4,'R'),(202.4,211.2,'B'),(211.2,228,'R'),
           (228,228.8,'N'),(228.8,249,'R'),(249,275.6,'N'),(275.6,278,'R'),(278,281.5,'N'),(281.5,290.2,'R'),
           (290.2,357.6,'N'),(357.6,391,'R'),(391,407,'N'),(407,429.5,'R'),(429.5,431,'N'),(431,439.4,'R'),
           (439.4,458.5,'N'),(458.5,463,'R'),(463,464.4,'N'),(464.4,568.8,'R'),(568.8,589.3,'B'),
           (589.3,592.3,'R'),(592.3,595,'N'),(595,608.4,'R'),(608.4,810,'N'),
           (34,35.5,'N'),(38.3,39.6,'N'),(63.3,63.7,'R'),(67.7,68.1,'R'),(113,113.4,'A'),(205,205.5,'R'),
           (208,208.5,'R'),(255,255.4,'R'),(264,264.4,'R'),(266.8,267.2,'R'),(274.1,274.5,'R'),
           (306.5,306.9,'R'),(324,324.4,'R'),(338.5,338.9,'R'),(347.3,347.7,'R'),(354.7,355.1,'R'),
           (359,359.8,'N'),(396.8,397.3,'R'),(401.2,401.7,'R'),(444.6,447.6,'R'),(449.7,450.2,'R'),
           (468.8,469.2,'N'),(474.7,475.1,'N'),(480.5,480.9,'N'),(486.4,486.8,'N'),(496.7,497.1,'N'),
           (570.2,571.7,'R'),(574.7,575.2,'R'),(612.8,613.2,'R'),(615.8,616.2,'R'),(621.7,622.1,'R'),
           (626.1,626.5,'R'),(629,629.4,'R'),(632,632.4,'R'),(652.5,652.9,'R'),(674.6,675,'R'),
           (712.8,713.2,'R'),(721.7,722.2,'R'),(740.8,741.2,'R'),(743.7,744.1,'R'),(746.6,747,'R'),
           (752.5,752.9,'R'),(770.2,770.6,'R'),(782,782.4,'R')]

years = ['2002', '2003', '2004']
year_edges = ['2002-07-01', '2003-01-01', '2004-01-01', '2004-10-01']

# ---- layout (pixel based, figure is 1087 x 1150) ----
W, H = 1087, 1150
fig = plt.figure(figsize=(W / 100, H / 100), dpi=100)
FRAME = '#262626'
T0 = mdates.date2num(np.datetime64('2002-07-01'))
T1 = mdates.date2num(np.datetime64('2004-10-01'))
EDGES = [mdates.date2num(np.datetime64(e)) for e in year_edges]


def px_axes(top, bottom, left=88.3, right=1065.0):
    return fig.add_axes([left / W, 1 - bottom / H, (right - left) / W, (bottom - top) / H])


def month_letter(x, pos):
    return mdates.num2date(x).strftime('%b')[0]


def time_axis(ax):
    ax.set_xlim(T0, T1)
    ax.xaxis.set_major_locator(mdates.MonthLocator())
    ax.xaxis.set_major_formatter(FuncFormatter(month_letter))
    for s in ax.spines.values():
        s.set_color(FRAME)
        s.set_linewidth(0.8)


def year_bracket(ax, line_px, label_px):
    h = ax.get_position().height * H
    tr = mtransforms.blended_transform_factory(ax.transData, ax.transAxes)
    yl, yt, ytext = -line_px / h, -(line_px - 12.5) / h, -label_px / h
    ax.plot([T0, T1], [yl, yl], transform=tr, color='#3a3a3a', lw=0.8, clip_on=False)
    for e in EDGES:
        ax.plot([e, e], [yl, yt], transform=tr, color='#3a3a3a', lw=0.8, clip_on=False)
    for i, y in enumerate(years):
        ax.text((EDGES[i] + EDGES[i + 1]) / 2, ytext, y, transform=tr, ha='center', va='center',
                fontsize=13.5, color='#111111')


def series_panel(ax, series, colors, labels, name):
    for data, c, lab in zip(series, colors, labels):
        d = np.array(data)
        ax.plot(T0 + d[:, 0], d[:, 1], color=c, lw=0.9, label=lab)
    time_axis(ax)
    ax.set_ylim(-2, 2)
    ax.set_yticks([-2, -1, 0, 1, 2])
    ax.grid(True, color='#e3e3e3', lw=0.8)
    ax.set_axisbelow(True)
    ax.tick_params(direction='in', top=True, right=True, length=5, width=0.8, color=FRAME,
                   labelsize=13.5, labelcolor='#111111')
    ax.tick_params(axis='x', pad=6)
    ax.tick_params(axis='y', pad=6)
    ax.set_ylabel(r'$\theta$ (°C)', fontsize=14.5)
    ax.yaxis.set_label_coords(-0.034, 0.5)
    ax.text(0.017, 0.875, name, transform=ax.transAxes, fontsize=14, fontweight='bold', va='center')
    leg = ax.legend(loc='upper right', bbox_to_anchor=(0.9826, 0.935), borderaxespad=0, fontsize=14.5,
                    handlelength=2.3, handletextpad=0.55, labelspacing=0.18, borderpad=0.35,
                    fancybox=False, framealpha=1)
    for h in leg.get_lines():
        h.set_linewidth(1.3)
    leg.get_frame().set_edgecolor('#222222')
    leg.get_frame().set_linewidth(0.9)


def strip_panel(ax, segs, depth):
    cmap = dict(zip(class_codes, class_colors))
    for a, b, code in segs:
        ax.axvspan(T0 + a, T0 + b, color=cmap[code], lw=0)
    time_axis(ax)
    ax.set_ylim(0, 1)
    ax.set_yticks([])
    ax.tick_params(axis='x', direction='out', top=True, bottom=True, length=7, width=0.8, color=FRAME,
                   labelsize=13.5, labelcolor='#111111', pad=6)
    ax.text(-0.027, 0.45, depth, transform=ax.transAxes, ha='right', va='center', fontsize=14)


ax_a = px_axes(18.3, 274)
series_panel(ax_a, [ctd61, rcm56, adcp48], ['#0000ff', '#008000', '#ff0000'],
             ['ctd-61m', 'rcm-56m', 'adcp-48m'], 'SBI3')
year_bracket(ax_a, 44, 57)

ax_b = px_axes(360, 398)
strip_panel(ax_b, strip61, '61m')
year_bracket(ax_b, 53, 67)

ax_c = px_axes(489, 748.3)
series_panel(ax_c, [ctd96, rcm76, ctd56, adcp52], ['#000000', '#4dbeee', '#008000', '#bf00bf'],
             ['ctd-96m', 'rcm-76m', 'ctd-56m', 'adcp-52m'], 'SBI4')
year_bracket(ax_c, 45, 58)

ax_d = px_axes(835, 876)
strip_panel(ax_d, strip56, '56m')
year_bracket(ax_d, 53, 67)

ax_e = px_axes(971, 1010)
strip_panel(ax_e, strip96, '96m')
year_bracket(ax_e, 55, 69)

for lab, ypx in [('(a)', 18), ('(b)', 347), ('(c)', 490), ('(d)', 821), ('(e)', 960)]:
    fig.text(16 / W, 1 - ypx / H, lab, fontsize=13.5, fontweight='bold', va='center', ha='left')

# class colour key
cax = px_axes(1104, 1126, 317, 796)
norm = BoundaryNorm(np.arange(7), 6)
cb = fig.colorbar(ScalarMappable(norm=norm, cmap=ListedColormap(class_colors)), cax=cax,
                  orientation='horizontal', ticks=np.arange(6) + 0.5)
cb.ax.minorticks_off()
cb.ax.set_xticklabels(class_names, fontweight='bold', fontsize=13.5)
cb.ax.tick_params(which='both', length=0, pad=6)
cb.outline.set_edgecolor('#888888')
cb.outline.set_linewidth(0.8)

fig.savefig('out.png', dpi=100)
